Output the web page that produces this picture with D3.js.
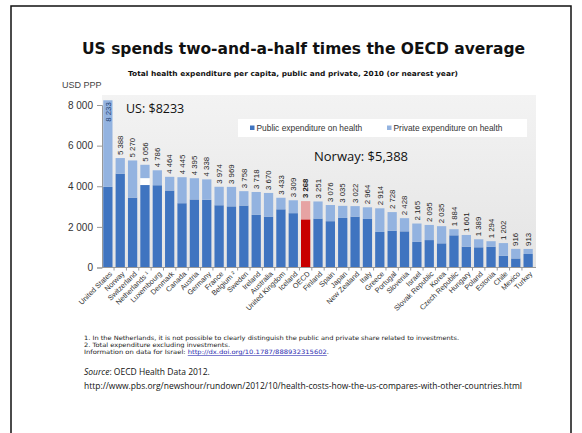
<!DOCTYPE html>
<html lang="en">
<head>
    <meta charset="UTF-8">
    <title>US health spending vs OECD</title>
    <script src="https://d3js.org/d3.v7.min.js"></script>
    <style>
        body { margin: 0; background: #fff; }
        svg { display: block; }
        .axis text { font-family: "Liberation Sans", Arial, sans-serif; fill: #333; }
        .axis path, .axis line { stroke: #999; }
    </style>
</head>
<body>
    <svg width="582" height="433"></svg>

    <script>
        const countries = ["United States", "Norway", "Switzerland", "Netherlands \u00b9", "Luxembourg", "Denmark",
            "Canada", "Austria", "Germany", "France", "Belgium \u00b2", "Sweden", "Ireland", "Australia",
            "United Kingdom", "Iceland", "OECD", "Finland", "Spain", "Japan", "New Zealand", "Italy", "Greece",
            "Portugal", "Slovenia", "Israel", "Slovak Republic", "Korea", "Czech Republic", "Hungary", "Poland",
            "Estonia", "Chile", "Mexico", "Turkey"];
        const totals = [8233, 5388, 5270, 5056, 4786, 4464, 4445, 4395, 4338, 3974, 3969, 3758, 3718, 3670,
            3433, 3309, 3268, 3251, 3076, 3035, 3022, 2964, 2914, 2728, 2428, 2165, 2095, 2035, 1884, 1601,
            1389, 1294, 1202, 916, 913];
        const publicVals = [3970, 4620, 3440, 4060, 4050, 3790, 3165, 3350, 3335, 3065, 3010, 3050, 2590, 2505,
            2865, 2675, 2370, 2410, 2280, 2440, 2505, 2390, 1750, 1810, 1780, 1260, 1350, 1190, 1585, 1025,
            995, 1025, 575, 445, 665];
        // Netherlands: share that cannot be split public/private (white gap)
        const unallocatedVals = [0, 0, 0, 340, 0, 0, 0, 0, 0, 0, 0, 0, 0, 0, 0, 0, 0, 0, 0, 0, 0, 0, 0, 0,
            0, 0, 0, 0, 0, 0, 0, 0, 0, 0, 0];
        const yTicks = [0, 2000, 4000, 6000, 8000];
        const legendLabels = ["Public expenditure on health", "Private expenditure on health"];

        const colors = { pub: "#3f74c0", priv: "#93b3e0", oecdPub: "#c80000", oecdPriv: "#e6a3a3" };

        const svg = d3.select("svg");

        // slide frame
        svg.append("rect")
            .attr("x", 11).attr("y", 6).attr("width", 560).attr("height", 440)
            .attr("fill", "none").attr("stroke", "#111").attr("stroke-width", 1.5);

        svg.append("text")
            .attr("x", 82).attr("y", 54)
            .attr("textLength", 443).attr("lengthAdjust", "spacingAndGlyphs")
            .style("font-family", "'DejaVu Sans', Verdana, sans-serif")
            .style("font-weight", "bold").style("font-size", "16px").attr("fill", "#111")
            .text("US spends two-and-a-half times the OECD average");

        svg.append("text")
            .attr("x", 128).attr("y", 76)
            .attr("textLength", 330).attr("lengthAdjust", "spacingAndGlyphs")
            .style("font-family", "'DejaVu Sans', Verdana, sans-serif")
            .style("font-weight", "bold").style("font-size", "7px").attr("fill", "#111")
            .text("Total health expenditure per capita, public and private, 2010 (or nearest year)");

        svg.append("text")
            .attr("x", 62).attr("y", 88)
            .style("font-family", "'Liberation Sans', Arial, sans-serif")
            .style("font-size", "9px").attr("fill", "#444")
            .text("USD PPP");

        // plot background
        const defs = svg.append("defs");
        const grad = defs.append("linearGradient").attr("id", "bg").attr("x1", 0).attr("y1", 0).attr("x2", 0).attr("y2", 1);
        grad.append("stop").attr("offset", "0%").attr("stop-color", "#f3f3f3");
        grad.append("stop").attr("offset", "100%").attr("stop-color", "#e4e4e4");

        const plotLeft = 102, plotRight = 536, plotTop = 95, plotBottom = 267.5;
        svg.append("rect")
            .attr("x", plotLeft).attr("y", plotTop).attr("width", plotRight - plotLeft).attr("height", plotBottom - plotTop)
            .attr("fill", "url(#bg)");

        const x = d3.scaleBand()
            .domain(countries)
            .range([plotLeft, 534])
            .paddingInner(0.25)
            .paddingOuter(0.1);

        const y = d3.scaleLinear()
            .domain([0, 8000])
            .range([plotBottom, 105]);

        // legend box
        svg.append("rect")
            .attr("x", 238).attr("y", 119).attr("width", 289).attr("height", 18)
            .attr("fill", "#fff");
        const legend = svg.append("g")
            .style("font-family", "'Liberation Sans', Arial, sans-serif")
            .style("font-size", "8.4px");
        [[250, colors.pub], [387, colors.priv]].forEach((d, i) => {
            legend.append("rect").attr("x", d[0]).attr("y", 125.5).attr("width", 4.5).attr("height", 4.5).attr("fill", d[1]);
            legend.append("text").attr("x", d[0] + 6.5).attr("y", 131).attr("fill", "#333").text(legendLabels[i]);
        });

        // y axis
        const yAxis = svg.append("g")
            .attr("class", "axis")
            .attr("transform", `translate(${plotLeft},0)`)
            .call(d3.axisLeft(y).tickValues(yTicks).tickSize(5).tickPadding(4)
                .tickFormat(d => d3.format(",")(d).replace(",", " ")));
        yAxis.selectAll("text").style("font-size", "10px");

        // bars
        const data = countries.map((c, i) => ({
            name: c, total: totals[i], pub: publicVals[i], gap: unallocatedVals[i]
        }));

        const bars = svg.append("g");
        bars.selectAll(".pub").data(data).join("rect")
            .attr("x", d => x(d.name)).attr("width", x.bandwidth())
            .attr("y", d => y(d.pub)).attr("height", d => y(0) - y(d.pub))
            .attr("fill", d => d.name === "OECD" ? colors.oecdPub : colors.pub);
        bars.selectAll(".gap").data(data.filter(d => d.gap > 0)).join("rect")
            .attr("x", d => x(d.name)).attr("width", x.bandwidth())
            .attr("y", d => y(d.pub + d.gap)).attr("height", d => y(d.pub) - y(d.pub + d.gap))
            .attr("fill", "#fff");
        bars.selectAll(".priv").data(data).join("rect")
            .attr("x", d => x(d.name)).attr("width", x.bandwidth())
            .attr("y", d => y(d.total)).attr("height", d => y(d.pub + d.gap) - y(d.total))
            .attr("fill", d => d.name === "OECD" ? colors.oecdPriv : colors.priv);

        // value labels
        const fmt = d => d3.format(",")(d).replace(",", " ");
        svg.append("g").selectAll("text").data(data).join("text")
            .attr("transform", (d, i) => {
                const cx = x(d.name) + x.bandwidth() / 2 + 2.7;
                const ty = i === 0 ? y(d.total) + 2 : y(d.total) - 3;
                return `translate(${cx},${ty}) rotate(-90)`;
            })
            .attr("text-anchor", (d, i) => i === 0 ? "end" : "start")
            .style("font-family", "'Liberation Sans', Arial, sans-serif")
            .style("font-size", "7.8px")
            .style("font-weight", d => d.name === "OECD" ? "bold" : "normal")
            .attr("fill", (d, i) => i === 0 ? "#1d3f73" : "#222")
            .text(d => fmt(d.total));

        // x axis
        const xAxis = svg.append("g")
            .attr("class", "axis")
            .attr("transform", `translate(0,${plotBottom})`)
            .call(d3.axisBottom(x).tickSize(0).tickPadding(0));
        xAxis.select(".domain").attr("d", `M${plotLeft},0H${plotRight}`);
        xAxis.selectAll(".sep").data(countries.slice(1)).join("line")
            .attr("x1", d => x(d) - x.step() * x.paddingInner() / 2)
            .attr("x2", d => x(d) - x.step() * x.paddingInner() / 2)
            .attr("y1", 0).attr("y2", 3).attr("stroke", "#999");
        xAxis.selectAll(".tick text")
            .attr("text-anchor", "end")
            .attr("transform", "translate(3,5) rotate(-45)")
            .attr("dy", "0.35em")
            .style("font-size", "7.3px")
            .attr("fill", "#444");

        // annotations
        const anno = svg.append("g").style("font-family", "'Open Sans', 'Liberation Sans', sans-serif").attr("fill", "#111");
        anno.append("text").attr("x", 126).attr("y", 113).style("font-size", "12.5px").text("US: $8233");
        anno.append("text").attr("x", 314).attr("y", 161).style("font-size", "13px").text("Norway: $5,388");

        // footnotes
        const notes = svg.append("g")
            .style("font-family", "'DejaVu Sans', Verdana, sans-serif")
            .style("font-size", "6px").attr("fill", "#222");
        notes.append("text").attr("x", 84).attr("y", 340)
            .attr("textLength", 375).attr("lengthAdjust", "spacingAndGlyphs")
            .text("1.  In the Netherlands, it is not possible to clearly distinguish the public and private share related to investments.");
        notes.append("text").attr("x", 84).attr("y", 347)
            .attr("textLength", 146).attr("lengthAdjust", "spacingAndGlyphs")
            .text("2.  Total expenditure excluding investments.");
        const info = notes.append("text").attr("x", 84).attr("y", 354)
            .attr("textLength", 245).attr("lengthAdjust", "spacingAndGlyphs");
        info.append("tspan").text("Information on data for Israel: ");
        info.append("tspan").attr("fill", "#2b2bb0").style("text-decoration", "underline")
            .text("http://dx.doi.org/10.1787/888932315602");
        info.append("tspan").text(".");

        const src = svg.append("g")
            .style("font-family", "'Open Sans', 'Liberation Sans', sans-serif")
            .attr("fill", "#111");
        const srcText = src.append("text").attr("x", 84).attr("y", 375).style("font-size", "8.5px");
        srcText.append("tspan").style("font-style", "italic").text("Source");
        srcText.append("tspan").text(": OECD Health Data 2012.");
        src.append("text").attr("x", 84).attr("y", 389).style("font-size", "8.5px")
            .attr("textLength", 438).attr("lengthAdjust", "spacingAndGlyphs")
            .text("http://www.pbs.org/newshour/rundown/2012/10/health-costs-how-the-us-compares-with-other-countries.html");
    </script>
</body>
</html>
